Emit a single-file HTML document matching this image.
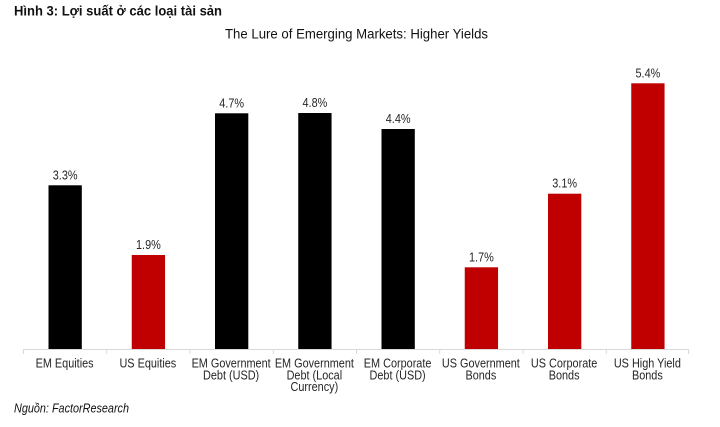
<!DOCTYPE html>
<html>
<head>
<meta charset="utf-8">
<style>
html,body{margin:0;padding:0;background:#fff;}
svg{display:block;}
text{font-family:"Liberation Sans",Arial,sans-serif;}
</style>
</head>
<body>
<svg width="720" height="427" viewBox="0 0 720 427" xmlns="http://www.w3.org/2000/svg">
<rect width="720" height="427" fill="#fff"/>
<!-- heading -->
<text x="14" y="15.5" font-size="13.5" font-weight="bold" fill="#111" textLength="208" lengthAdjust="spacingAndGlyphs">Hình 3: Lợi suất ở các loại tài sản</text>
<!-- title -->
<text x="225" y="38.3" font-size="14" fill="#111" textLength="263" lengthAdjust="spacingAndGlyphs">The Lure of Emerging Markets: Higher Yields</text>

<!-- bars -->
<g>
<rect x="48.5" y="185.3" width="33.3" height="164" fill="#000"/>
<rect x="131.75" y="255" width="33.3" height="94.3" fill="#c00000"/>
<rect x="215" y="113.3" width="33.3" height="236" fill="#000"/>
<rect x="298.25" y="113" width="33.3" height="236.3" fill="#000"/>
<rect x="381.5" y="129" width="33.3" height="220.3" fill="#000"/>
<rect x="464.75" y="267.3" width="33.3" height="82" fill="#c00000"/>
<rect x="548" y="193.7" width="33.3" height="155.6" fill="#c00000"/>
<rect x="631.25" y="83.3" width="33.3" height="266" fill="#c00000"/>
</g>

<!-- axis -->
<g stroke="#d9d9d9" stroke-width="1">
<line x1="23" y1="349.5" x2="689" y2="349.5"/>
<line x1="23.5" y1="349.5" x2="23.5" y2="354"/>
<line x1="106.75" y1="349.5" x2="106.75" y2="354"/>
<line x1="190" y1="349.5" x2="190" y2="354"/>
<line x1="273.25" y1="349.5" x2="273.25" y2="354"/>
<line x1="356.5" y1="349.5" x2="356.5" y2="354"/>
<line x1="439.75" y1="349.5" x2="439.75" y2="354"/>
<line x1="523" y1="349.5" x2="523" y2="354"/>
<line x1="606.25" y1="349.5" x2="606.25" y2="354"/>
<line x1="688.5" y1="349.5" x2="688.5" y2="354"/>
</g>

<!-- value labels -->
<g font-size="12.5" fill="#262626" text-anchor="middle">
<text transform="translate(65.15,179.3) scale(0.87,1)">3.3%</text>
<text transform="translate(148.4,249) scale(0.87,1)">1.9%</text>
<text transform="translate(231.65,107.3) scale(0.87,1)">4.7%</text>
<text transform="translate(314.9,107) scale(0.87,1)">4.8%</text>
<text transform="translate(398.15,123) scale(0.87,1)">4.4%</text>
<text transform="translate(481.4,261.3) scale(0.87,1)">1.7%</text>
<text transform="translate(564.65,187.7) scale(0.87,1)">3.1%</text>
<text transform="translate(647.9,77.3) scale(0.87,1)">5.4%</text>
</g>

<!-- category labels -->
<g font-size="12.5" fill="#262626" text-anchor="middle">
<text transform="translate(64.6,367.3) scale(0.87,1)">EM Equities</text>
<text transform="translate(147.85,367.3) scale(0.87,1)">US Equities</text>
<text transform="translate(231.1,367.3) scale(0.87,1)">EM Government</text>
<text transform="translate(231.1,379.3) scale(0.87,1)">Debt (USD)</text>
<text transform="translate(314.35,367.3) scale(0.87,1)">EM Government</text>
<text transform="translate(314.35,379.3) scale(0.87,1)">Debt (Local</text>
<text transform="translate(314.35,391.1) scale(0.87,1)">Currency)</text>
<text transform="translate(397.6,367.3) scale(0.87,1)">EM Corporate</text>
<text transform="translate(397.6,379.3) scale(0.87,1)">Debt (USD)</text>
<text transform="translate(480.85,367.3) scale(0.87,1)">US Government</text>
<text transform="translate(480.85,379.3) scale(0.87,1)">Bonds</text>
<text transform="translate(564.1,367.3) scale(0.87,1)">US Corporate</text>
<text transform="translate(564.1,379.3) scale(0.87,1)">Bonds</text>
<text transform="translate(647.35,367.3) scale(0.87,1)">US High Yield</text>
<text transform="translate(647.35,379.3) scale(0.87,1)">Bonds</text>
</g>

<!-- source -->
<text x="14" y="412.7" font-size="12.5" font-style="italic" fill="#111" textLength="115" lengthAdjust="spacingAndGlyphs">Nguồn: FactorResearch</text>
</svg>
</body>
</html>
